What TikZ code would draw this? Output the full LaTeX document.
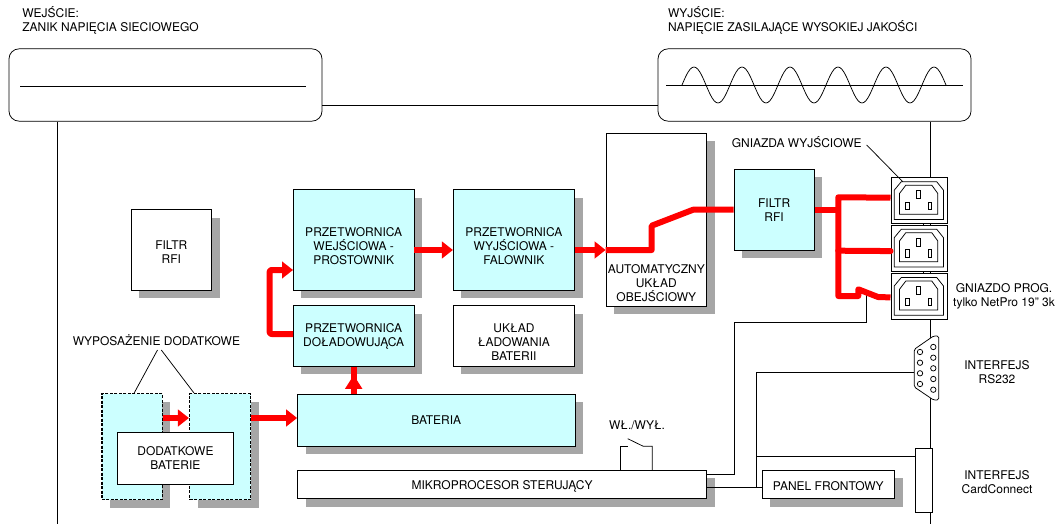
\documentclass[tikz,border=0pt]{standalone}
\usepackage{fontspec}
\setmainfont{TeX Gyre Heros}
\usetikzlibrary{calc,arrows.meta,shadows}
\definecolor{boxcyan}{HTML}{CCFFFF}
\definecolor{shadegray}{HTML}{A6A6A6}
\newcommand{\lift}[1]{\rule{0pt}{#1pt}}

\begin{document}
\begin{tikzpicture}[x=1pt,y=-1pt,line width=0.75pt,
        node font={\fontsize{12}{14}\selectfont},
        lbl/.style={align=center,inner sep=0pt},
        lblleft/.style={align=left,inner sep=0pt,anchor=west},
        plainbox/.style={draw,fill=white,align=center,inner sep=0pt},
        whitebox/.style={plainbox,drop shadow={shadow xshift=8pt,shadow yshift=-8pt,fill=shadegray,opacity=1}},
        cyanbox/.style={whitebox,fill=boxcyan},
        extrabox/.style={cyanbox,line width=1.5pt,dash pattern=on 3pt off 1.5pt},
        panelbox/.style={draw,fill=white,rounded corners=10pt,minimum width=313pt,minimum height=72.3pt},
        redline/.style={red,line width=6pt,line join=round},
        redarrow/.style={redline,-{Triangle[length=11pt,width=16.5pt]}}]
        \useasboundingbox (0,0) rectangle (1058,524);

        % Input and output panels
        \node[lblleft] (wejscie) at (22,20.5) {WEJŚCIE:\\ZANIK NAPIĘCIA SIECIOWEGO};
        \node[lblleft] (wyjscie) at (667.7,20.5) {WYJŚCIE:\\NAPIĘCIE ZASILAJĄCE WYSOKIEJ JAKOŚCI};
        \node[panelbox] (input) at (165.5,85) {};
        \node[panelbox] (output) at (814.5,85) {};
        \draw (20,86) -- (306,86);
        \draw (666,85) -- (963,85);
        \draw plot[domain=0:264,samples=133,smooth] ({682+\x},{85-18*sin(7.5*\x)});
        \draw ([yshift=-20.4pt]input.east) -- ([yshift=-20.4pt]output.west);

        % Left rail and right rail
        \coordinate (rail) at (57,524);
        \coordinate (bus) at (930.5,524);
        \draw (rail |- input.south) -- (rail);

        % Blocks
        \node[whitebox,minimum width=80.6pt,minimum height=80.3pt] (filtrA) at (171.3,249.85) {\lift{13}FILTR\\RFI};
        \node[cyanbox,minimum width=120.6pt,minimum height=100.3pt] (prostownik) at (353.7,239.85) {\lift{21}PRZETWORNICA\\WEJŚCIOWA -\\PROSTOWNIK};
        \node[cyanbox,minimum width=121.2pt,minimum height=100.3pt] (falownik) at (513.9,239.85) {\lift{21}PRZETWORNICA\\WYJŚCIOWA -\\FALOWNIK};
        \node[whitebox,minimum width=100.7pt,minimum height=172.7pt] (auto) at (656.35,219.65) {\lift{135}AUTOMATYCZNY\\UKŁAD\\OBEJŚCIOWY};
        \node[cyanbox,minimum width=80.3pt,minimum height=80.7pt] (filtrB) at (774.15,209.65) {FILTR\\RFI};
        \node[cyanbox,minimum width=120.6pt,minimum height=60.6pt] (dolad) at (353.7,336) {PRZETWORNICA\\DOŁADOWUJĄCA};
        \node[whitebox,minimum width=121.2pt,minimum height=60.6pt] (uklad) at (513.9,336) {\lift{20}UKŁAD\\ŁADOWANIA\\BATERII};
        \node[cyanbox,minimum width=277.5pt,minimum height=52pt] (bateria) at (436.25,420.3) {BATERIA};
        \node[whitebox,minimum width=409.2pt,minimum height=28.4pt] (micro) at (502.1,484.5) {\lift{13}MIKROPROCESOR STERUJĄCY};
        \node[whitebox,minimum width=132.7pt,minimum height=28.4pt] (panel) at (828.35,484.5) {\lift{13}PANEL FRONTOWY};

        % Extra batteries
        \node[extrabox,minimum width=60.5pt,minimum height=106pt] (extA) at (132,446.7) {};
        \node[extrabox,minimum width=60.8pt,minimum height=106pt] (extB) at (220.1,446.7) {};
        \node[plainbox,minimum width=116.3pt,minimum height=52.4pt] (dodat) at (175.45,458.5) {DODATKOWE\\BATERIE};
        \node[lbl] (wypos) at (156.4,339.7) {WYPOSAŻENIE DODATKOWE};
        \coordinate (wyposL) at (157.5,350);
        \coordinate (wyposR) at (161.3,350);
        \draw (wyposL) -- ([xshift=2.2pt]extA.north);
        \draw (wyposR) -- ([xshift=5pt]extB.north west);

        % Sockets
        \foreach \ypos/\sname in {177.5/gnA,225/gnB,273.3/gnC}{
                \node[draw,fill=white,minimum width=56.5pt,minimum height=45.5pt,anchor=north west,inner sep=0pt] (\sname) at (890.5,\ypos) {};
                \begin{scope}[shift={(890.5,\ypos)}]
                        \draw (3.7,12.7) -- (10.7,4.3) -- (46.3,4.3) -- (53,12.7) -- (53,42) -- (3.7,42) -- cycle;
                        \draw (9,16) -- (15.3,7.7) -- (41.3,7.7) -- (47.3,16) -- (47.3,36.7) -- (9,36.7) -- cycle;
                        \draw (26.3,13.3) rectangle (30.3,21.3);
                        \draw (15.3,24.7) rectangle (19,32);
                        \draw (37.7,24.7) rectangle (41.3,32);
                \end{scope}
        }
        \draw (bus |- output.south) -- (bus |- gnA.north);
        \draw (bus |- gnA.south) -- (bus |- gnB.north);
        \draw (bus |- gnB.south) -- (bus |- gnC.north);
        \draw (bus |- gnC.south) -- (bus);
        \draw ([xshift=4pt]gnA.south) -- ([xshift=4pt]gnB.north);
        \draw ([xshift=4pt]gnB.south) -- ([xshift=4pt]gnC.north);
        \node[lbl] (gniazda) at (796.7,141.7) {GNIAZDA WYJŚCIOWE};
        \coordinate (gniazdaEnd) at (866.7,145);
        \draw (gniazdaEnd) -- ([xshift=12.2pt,yshift=-4.2pt]gnA.north west);
        \node[lbl] (gniazdo) at (1004,296.5) {GNIAZDO PROG.\\tylko NetPro 19" 3k};

        % RS232 plug
        \coordinate (rsPort) at (914.3,372.7);
        \draw[fill=white,rounded corners=1.5pt] (914.3,349.3) -- (933.5,336) -- (938.7,336) -- (938.7,400) -- (933.5,400) -- (914.3,387) -- cycle;
        \foreach \ypos in {347,357.7,368.3,379,389.7}
                \draw (933.3,\ypos) circle (2.7);
        \foreach \ypos in {352,362.7,373.3,384}
                \draw (920,\ypos) circle (2.7);
        \node[lbl] (rslbl) at (997,371.7) {INTERFEJS\\RS232};

        % CardConnect
        \node[draw,fill=white,minimum width=16.6pt,minimum height=63.6pt,inner sep=0pt] (card) at (924,480.5) {};
        \node[lbl] (cardlbl) at (997,482) {INTERFEJS\\CardConnect};

        % Signal lines
        \coordinate (jun) at (756.3,487);
        \coordinate (cardIn) at ([yshift=24.2pt]card.west);
        \coordinate (micOut) at ([yshift=10.2pt]micro.east);
        \coordinate (progIn) at (866.7,293.7);
        \draw ([yshift=-2.5pt]micro.east) -- ([yshift=-2.5pt]panel.west);
        \draw (rsPort) -- (rsPort -| jun) -- (jun);
        \draw (cardIn) -- (cardIn -| jun);
        \draw (micOut) -- (734.3,474.3) -- (734.3,322) -- (866.7,322) -- (progIn);

        % Switch
        \node[lbl] (wlwyl) at (637,425.3) {WŁ./WYŁ.};
        \coordinate (swA) at (620,470.3);
        \coordinate (swB) at (652.3,470.3);
        \draw (swA) -- (620,446.3) -- (628,446.3);
        \draw (627.7,438.7) -- (643.3,446.3) -- (652.3,446.3) -- (swB);

        % Power path
        \draw[redarrow] ([yshift=28.7pt]extA.east) -- ([yshift=28.7pt]extB.west);
        \draw[redarrow] ([yshift=28.7pt]extB.east) -- ([yshift=2.3pt]bateria.west);
        \draw[redline] (bateria.north -| dolad.south) -- (dolad.south);
        \draw[redline,-{Triangle[length=14pt,width=16.5pt]}] (bateria.north -| dolad.south) ++(0,-5) -- ++(0,-14);
        \draw[redarrow,rounded corners=2pt] ([yshift=2pt]dolad.west) -- (269.6,334) -- (269.6,270) -- ([yshift=-30.15pt]prostownik.west);
        \draw[redarrow] ([yshift=-10.15pt]prostownik.east) -- ([yshift=-10.15pt]falownik.west);
        \draw[redarrow] ([yshift=-10.15pt]falownik.east) -- ([yshift=-30.35pt]auto.west);
        \draw[redline] ([yshift=-30.35pt]auto.west) -- (651.7,250) -- (651.7,225.7) -- (693.3,209.65) -- (filtrB.west);
        \draw[redline] (filtrB.east) -- (838.3,209.65);
        \draw[redline] ([yshift=2.95pt]gnA.west) -- (838.3,197.3) -- (838.3,296) -- (858.3,296) -- (858.3,289.3) -- (878,297) -- ([yshift=-1pt]gnC.west);
        \draw[redline,line cap=round] (838.3,250.7) -- ([yshift=-2.95pt]gnB.west);
\end{tikzpicture}
\end{document}
